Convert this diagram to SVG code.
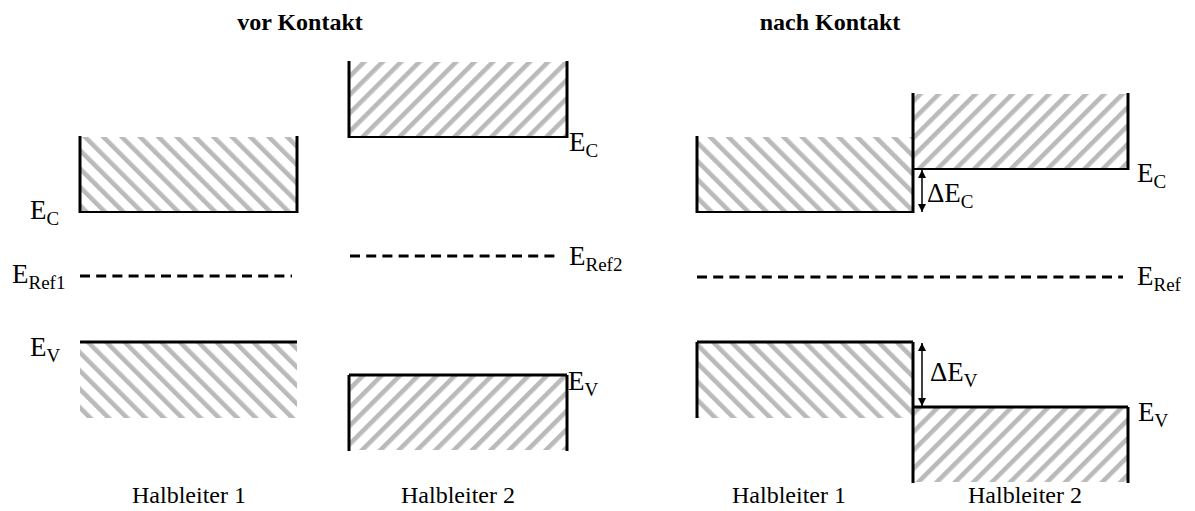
<svg xmlns="http://www.w3.org/2000/svg" width="1195" height="511" viewBox="0 0 1195 511">
<defs>
<pattern id="hatchB" patternUnits="userSpaceOnUse" width="13" height="13" patternTransform="rotate(-45)">
<rect x="0" y="0" width="4.6" height="13" fill="#bababa"/>
</pattern>
<pattern id="hatchF" patternUnits="userSpaceOnUse" width="13" height="13" patternTransform="rotate(45)">
<rect x="0" y="0" width="4.6" height="13" fill="#bababa"/>
</pattern>
<marker id="arr" viewBox="0 0 10 10" refX="10" refY="5" markerWidth="8" markerHeight="9" markerUnits="userSpaceOnUse" orient="auto-start-reverse">
<path d="M0,0 L10,5 L0,10 z" fill="#000"/>
</marker>
</defs>
<style>
text{font-family:"Liberation Serif","Times New Roman",serif;font-size:24px;fill:#000}
.title{font-weight:bold}
.lab{font-size:27px}
.sub{font-size:19px}
.v{stroke:#000;stroke-width:3;fill:none}
.h{stroke:#000;stroke-width:2;fill:none}
.ht{stroke:#000;stroke-width:3;fill:none}
.d{stroke:#000;stroke-width:3;stroke-dasharray:10 6.2;fill:none}
.hb{fill:url(#hatchB)}
.hf{fill:url(#hatchF)}
.ar{stroke:#000;stroke-width:1.5;fill:none;marker-start:url(#arr);marker-end:url(#arr)}
</style>
<rect width="1195" height="511" fill="#fff"/>

<g id="title-before"><text class="title" x="300" y="30" text-anchor="middle">vor Kontakt</text></g>
<g id="title-after"><text class="title" x="830" y="30" text-anchor="middle">nach Kontakt</text></g>

<g id="hl1-before">
<rect class="hb" x="80" y="137" width="217" height="75"/>
<line class="v" x1="80" y1="136" x2="80" y2="213"/>
<line class="v" x1="297" y1="136" x2="297" y2="213"/>
<line class="h" x1="80" y1="212" x2="297" y2="212"/>
<text class="lab" x="30" y="219">E<tspan class="sub" dy="6">C</tspan></text>
<line class="d" x1="80" y1="276" x2="292" y2="276"/>
<text class="lab" x="12" y="283">E<tspan class="sub" dy="6">Ref1</tspan></text>
<rect class="hb" x="80" y="342" width="217" height="76"/>
<line class="ht" x1="80" y1="342" x2="297" y2="342"/>
<text class="lab" x="30" y="356">E<tspan class="sub" dy="6">V</tspan></text>
<text x="189" y="503" text-anchor="middle">Halbleiter 1</text>
</g>

<g id="hl2-before">
<rect class="hf" x="349" y="62" width="218" height="75"/>
<line class="v" x1="349" y1="61" x2="349" y2="138"/>
<line class="v" x1="567" y1="61" x2="567" y2="138"/>
<line class="h" x1="349" y1="137" x2="567" y2="137"/>
<text class="lab" x="569" y="151">E<tspan class="sub" dy="6">C</tspan></text>
<line class="d" x1="350" y1="256" x2="558" y2="256"/>
<text class="lab" x="569" y="265">E<tspan class="sub" dy="6">Ref2</tspan></text>
<rect class="hf" x="349" y="375" width="218" height="75"/>
<line class="ht" x1="349" y1="375" x2="567" y2="375"/>
<line class="v" x1="349" y1="375" x2="349" y2="451"/>
<line class="v" x1="567" y1="375" x2="567" y2="451"/>
<text class="lab" x="568" y="390">E<tspan class="sub" dy="6">V</tspan></text>
<text x="458" y="503" text-anchor="middle">Halbleiter 2</text>
</g>

<g id="hl1-after">
<rect class="hb" x="697" y="137" width="216" height="75"/>
<line class="v" x1="697" y1="136" x2="697" y2="213"/>
<line class="h" x1="697" y1="212" x2="913" y2="212"/>
<rect class="hb" x="697" y="342" width="216" height="76"/>
<line class="ht" x1="697" y1="342" x2="913" y2="342"/>
<line class="v" x1="697" y1="342" x2="697" y2="418"/>
<text x="789" y="503" text-anchor="middle">Halbleiter 1</text>
</g>

<g id="hl2-after">
<rect class="hf" x="913" y="94" width="215" height="75"/>
<line class="v" x1="913" y1="93" x2="913" y2="213"/>
<line class="v" x1="1128" y1="93" x2="1128" y2="170"/>
<line class="h" x1="913" y1="169" x2="1128" y2="169"/>
<text class="lab" x="1137" y="182">E<tspan class="sub" dy="6">C</tspan></text>
<rect class="hf" x="913" y="407" width="215" height="75"/>
<line class="ht" x1="913" y1="407" x2="1128" y2="407"/>
<line class="v" x1="913" y1="342" x2="913" y2="483"/>
<line class="v" x1="1128" y1="407" x2="1128" y2="483"/>
<text class="lab" x="1138" y="421">E<tspan class="sub" dy="6">V</tspan></text>
<text x="1025" y="503" text-anchor="middle">Halbleiter 2</text>
</g>

<g id="ref-after">
<line class="d" x1="697" y1="277" x2="1123" y2="277"/>
<text class="lab" x="1137" y="285">E<tspan class="sub" dy="6">Ref</tspan></text>
</g>

<g id="connectors">
<line class="ar" x1="922" y1="170" x2="922" y2="212"/>
<text class="lab" x="927" y="202">ΔE<tspan class="sub" dy="6">C</tspan></text>
<line class="ar" x1="922" y1="343" x2="922" y2="406"/>
<text class="lab" x="930" y="381">ΔE<tspan class="sub" dy="6">V</tspan></text>
</g>
</svg>
